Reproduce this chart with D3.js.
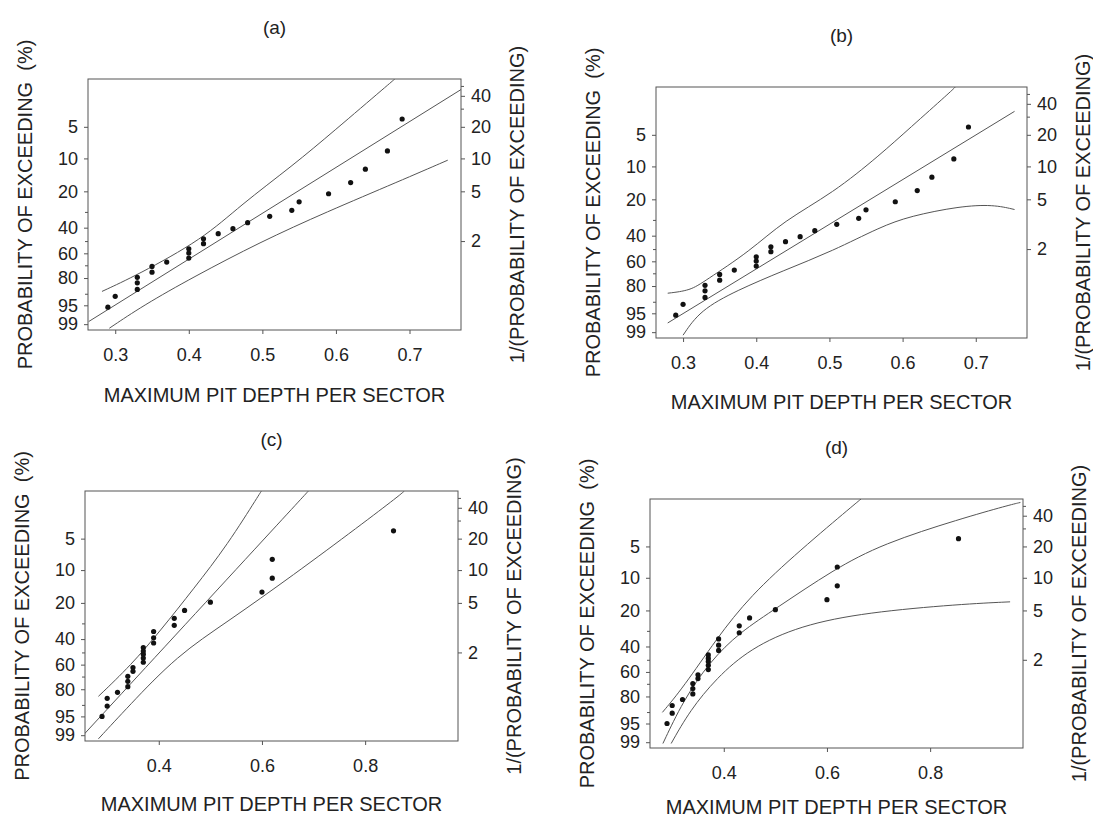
<!DOCTYPE html>
<html>
<head>
<meta charset="utf-8">
<script src="https://cdn.jsdelivr.net/npm/d3@7"></script>
<style>
  body { margin: 0; background: #fff; }
  text { font-family: "Liberation Sans", Arial, sans-serif; fill: #222; }
</style>
</head>
<body>
<div id="plot"></div>
<script>
var w = 1093;
var h = 821;

// tick labels
var xTicksAB = [0.3, 0.4, 0.5, 0.6, 0.7];
var xTicksCD = [0.4, 0.6, 0.8];
var probTicks = [5, 10, 20, 40, 60, 80, 95, 99];
var probMinor = [30, 50, 70, 90];
var returnTicks = [40, 20, 10, 5, 2];
var returnMinor = [50, 30];

// observed maxima (panels a, b) : depth, probability of exceeding (%)
var depthAB = [0.29, 0.30, 0.33, 0.33, 0.33, 0.35, 0.35, 0.37, 0.40, 0.40, 0.40, 0.42,
  0.42, 0.44, 0.46, 0.48, 0.51, 0.54, 0.55, 0.59, 0.62, 0.64, 0.67, 0.69];
var probAB = [95.6, 91.3, 87.6, 83.4, 79.5, 75.5, 70.9, 67.3, 64.0, 59.8, 56.2, 52.1,
  48.2, 44.3, 40.7, 36.6, 32.6, 29.1, 24.7, 21.0, 16.7, 12.6, 8.5, 4.2];

// observed maxima (panels c, d)
var depthCD = [0.29, 0.30, 0.30, 0.32, 0.34, 0.34, 0.34, 0.35, 0.35, 0.37, 0.37, 0.37, 0.37,
  0.37, 0.39, 0.39, 0.39, 0.43, 0.43, 0.45, 0.50, 0.60, 0.62, 0.62, 0.855];
var probCD = [95.0, 90.6, 86.2, 82.2, 78.1, 73.9, 69.8, 65.6, 62.4, 58.0, 54.5, 51.4, 48.9,
  46.2, 42.8, 39.1, 34.9, 31.1, 27.2, 23.3, 19.7, 16.0, 11.9, 7.9, 4.2];

// fitted lines and bounds [depth, probability %]
var fitA = [[0.264, 98.69], [0.770, 2.17]];
var upperA = [[0.282, 88.74], [0.329, 78.04], [0.420, 48.16], [0.470, 26.41], [0.542, 11.57], [0.596, 5.59], [0.673, 1.89], [0.680, 1.71]];
var lowerA = [[0.292, 99.36], [0.338, 95.06], [0.406, 79.32], [0.497, 50.78], [0.587, 30.05], [0.686, 16.25], [0.752, 10.39]];

var fitB = [[0.279, 97.61], [0.753, 2.96]];
var upperB = [[0.279, 84.97], [0.310, 83.17], [0.329, 76.42], [0.392, 51.41], [0.437, 30.68], [0.505, 17.57], [0.569, 7.80], [0.610, 4.29], [0.665, 1.92], [0.672, 1.71]];
var lowerB = [[0.300, 99.28], [0.323, 93.93], [0.373, 83.17], [0.437, 67.83], [0.505, 51.41], [0.569, 34.28], [0.610, 27.91], [0.678, 22.98], [0.724, 22.23], [0.753, 24.53]];

var fitC = [[0.256, 98.85], [0.686, 1.80], [0.690, 1.71]];
var upperC = [[0.283, 84.94], [0.346, 60.53], [0.404, 34.06], [0.468, 14.82], [0.533, 5.76], [0.596, 1.80], [0.599, 1.71]];
var lowerC = [[0.283, 99.33], [0.340, 91.09], [0.436, 52.22], [0.533, 29.14], [0.661, 11.13], [0.790, 3.73], [0.866, 1.90], [0.876, 1.71]];

var fitD = [[0.282, 99.13], [0.321, 83.17], [0.373, 51.41], [0.431, 30.78], [0.502, 19.12], [0.612, 8.40], [0.709, 4.68], [0.858, 2.69], [0.952, 1.97], [0.975, 1.85]];
var upperD = [[0.281, 90.18], [0.321, 73.26], [0.386, 34.73], [0.451, 14.78], [0.548, 5.43], [0.654, 1.92], [0.666, 1.71]];
var lowerD = [[0.298, 99.13], [0.334, 89.29], [0.386, 65.09], [0.451, 41.42], [0.548, 27.02], [0.677, 20.80], [0.858, 17.57], [0.955, 16.73]];

// Gumbel reduced variate of a probability of exceeding (%)
var gum = (p) => -Math.log(-Math.log(1 - p / 100));

var panels = [
  { id: "a", left: 88, right: 461, top: 79, bottom: 330, xd: [0.263, 0.770], ticks: xTicksAB,
    depth: depthAB, prob: probAB, lines: [fitA, upperA, lowerA], titleDy: 72 },
  { id: "b", left: 656, right: 1027, top: 87, bottom: 338, xd: [0.263, 0.770], ticks: xTicksAB,
    depth: depthAB, prob: probAB, lines: [fitB, upperB, lowerB], titleDy: 71 },
  { id: "c", left: 85, right: 458, top: 491, bottom: 741, xd: [0.257, 0.98], ticks: xTicksCD,
    depth: depthCD, prob: probCD, lines: [fitC, upperC, lowerC], titleDy: 70 },
  { id: "d", left: 650, right: 1023, top: 499, bottom: 748, xd: [0.257, 0.98], ticks: xTicksCD,
    depth: depthCD, prob: probCD, lines: [fitD, upperD, lowerD], titleDy: 66 },
];

var svg = d3.select("#plot").append("svg").attr("width", w).attr("height", h);

var lineColor = "#555";

panels.forEach(function (p) {
  var g = svg.append("g");

  var xScale = d3.scaleLinear().domain(p.xd).range([p.left, p.right]);
  var yScale = d3.scaleLinear().domain([-1.66, 4.06]).range([p.bottom, p.top]);
  var yProb = (v) => yScale(gum(v));

  g.append("clipPath").attr("id", "clip" + p.id)
    .append("rect")
    .attr("x", p.left).attr("y", p.top)
    .attr("width", p.right - p.left).attr("height", p.bottom - p.top);

  // frame
  g.append("rect")
    .attr("x", p.left).attr("y", p.top)
    .attr("width", p.right - p.left).attr("height", p.bottom - p.top)
    .attr("fill", "none").attr("stroke", lineColor).attr("stroke-width", 1);

  // x axis
  var xAxis = d3.axisBottom(xScale).tickValues(p.ticks).tickFormat(d3.format(".1f"))
    .tickSize(4).tickPadding(14);
  var gx = g.append("g").attr("transform", "translate(0," + p.bottom + ")").call(xAxis);

  // left probability axis
  var leftAxis = d3.axisLeft(yScale)
    .tickValues(probTicks.map(gum)).tickFormat((d, i) => probTicks[i])
    .tickSize(4).tickPadding(6);
  var gl = g.append("g").attr("transform", "translate(" + p.left + ",0)").call(leftAxis);
  var gl2 = g.append("g").attr("transform", "translate(" + p.left + ",0)")
    .call(d3.axisLeft(yScale).tickValues(probMinor.map(gum)).tickFormat("").tickSize(3));

  // right return period axis
  var rightAxis = d3.axisRight(yScale)
    .tickValues(returnTicks.map((t) => gum(100 / t))).tickFormat((d, i) => returnTicks[i])
    .tickSize(4).tickPadding(6);
  var gr = g.append("g").attr("transform", "translate(" + p.right + ",0)").call(rightAxis);
  var gr2 = g.append("g").attr("transform", "translate(" + p.right + ",0)")
    .call(d3.axisRight(yScale).tickValues(returnMinor.map((t) => gum(100 / t))).tickFormat("").tickSize(3));

  [gx, gl, gl2, gr, gr2].forEach(function (a) {
    a.select(".domain").remove();
    a.selectAll(".tick line").attr("stroke", lineColor);
    a.selectAll("text").attr("font-size", "18px").attr("fill", "#222")
      .attr("font-family", "'Liberation Sans', Arial, sans-serif");
  });

  // curves
  var line = d3.line()
    .x((d) => xScale(d[0]))
    .y((d) => yProb(d[1]))
    .curve(d3.curveBasis);

  g.append("g").attr("clip-path", "url(#clip" + p.id + ")")
    .selectAll("path")
    .data(p.lines)
    .enter()
    .append("path")
    .attr("d", line)
    .attr("fill", "none")
    .attr("stroke", lineColor)
    .attr("stroke-width", 1);

  // points
  g.selectAll("circle")
    .data(p.depth)
    .enter()
    .append("circle")
    .attr("cx", (d) => xScale(d))
    .attr("cy", (d, i) => yProb(p.prob[i]))
    .attr("r", 2.6)
    .attr("fill", "#111");

  // titles
  var cx = (p.left + p.right) / 2;
  var cy = (p.top + p.bottom) / 2;

  g.append("text")
    .text("(" + p.id + ")")
    .attr("x", cx)
    .attr("y", p.top - 45)
    .attr("text-anchor", "middle")
    .attr("font-size", "19px");

  g.append("text")
    .text("MAXIMUM PIT DEPTH PER SECTOR")
    .attr("x", cx)
    .attr("y", p.bottom + p.titleDy)
    .attr("text-anchor", "middle")
    .attr("font-size", "20px");

  g.append("text")
    .text("PROBABILITY OF EXCEEDING  (%)")
    .style("white-space", "pre")
    .attr("transform", "translate(" + (p.left - 56) + "," + cy + ") rotate(-90)")
    .attr("text-anchor", "middle")
    .attr("font-size", "20px");

  g.append("text")
    .text("1/(PROBABILITY OF EXCEEDING)")
    .attr("transform", "translate(" + (p.right + 63) + "," + cy + ") rotate(-90)")
    .attr("text-anchor", "middle")
    .attr("font-size", "20px");
});
</script>
</body>
</html>
